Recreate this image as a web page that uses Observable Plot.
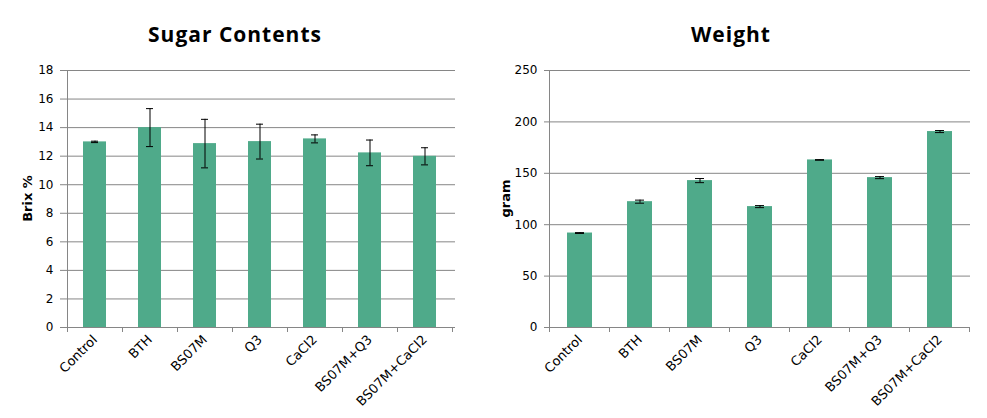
<!DOCTYPE html>
<html><head><meta charset="utf-8">
<script src="https://cdn.jsdelivr.net/npm/d3@7"></script>
<script src="https://cdn.jsdelivr.net/npm/@observablehq/plot@0.6"></script>
<style>
body{margin:0;background:#fff;}
#wrap{position:relative;width:987px;height:418px;overflow:hidden;background:#fff;}
.panel{position:absolute;top:0;}
.title{position:absolute;top:20px;font-family:"Open Sans",sans-serif;font-weight:bold;font-size:21px;letter-spacing:1px;color:#000;white-space:nowrap;transform:translateX(-50%);}
</style></head>
<body><div id="wrap"></div>
<script>
const categories = ["Control","BTH","BS07M","Q3","CaCl2","BS07M+Q3","BS07M+CaCl2"];
const sugarMean = [13.0, 14.0, 12.88, 13.02, 13.21, 12.23, 11.99];
const sugarErr  = [0.05, 1.33, 1.7, 1.22, 0.28, 0.9, 0.6];
const weightMean = [91.9, 122.4, 142.9, 117.6, 163.0, 145.8, 190.6];
const weightErr  = [0.4, 1.5, 2.0, 1.0, 0.3, 1.0, 1.0];
const sugarTicks = [0,2,4,6,8,10,12,14,16,18];
const weightTicks = [0,50,100,150,200,250];
const sugarTitle = "Sugar Contents", sugarYLabel = "Brix %";
const weightTitle = "Weight", weightYLabel = "gram";

const wrap = document.getElementById("wrap");

function panel({left, width, marginLeft, marginRight, title, titleX, ylabel, ylabelX, mean, err, ticks}) {
  const data = categories.map((c, i) => ({cat: c, mean: mean[i], err: err[i]}));
  const grid = "#868686";
  const plot = Plot.plot({
    width, height: 418,
    marginTop: 70, marginBottom: 91, marginLeft, marginRight,
    x: {domain: categories, paddingInner: 0.59, paddingOuter: 0.295, label: null},
    y: {domain: [0, ticks[ticks.length - 1]], label: null},
    style: {fontFamily: "DejaVu Sans, sans-serif", fontSize: "12px", color: "#000", background: "#fff"},
    marks: [
      Plot.ruleY(ticks, {stroke: grid, strokeWidth: 1}),
      Plot.barY(data, {x: "cat", y: "mean", fill: "#4FAA8A"}),
      Plot.ruleX(data, {x: "cat", y1: d => d.mean - d.err, y2: d => d.mean + d.err, stroke: "#000", strokeWidth: 1}),
      Plot.tickY(data, {x: "cat", y: d => d.mean - d.err, stroke: "#000", inset: 8}),
      Plot.tickY(data, {x: "cat", y: d => d.mean + d.err, stroke: "#000", inset: 8}),
      Plot.axisY({ticks, tickSize: 4, tickPadding: 7, stroke: grid, fill: "#000", label: null}),
      Plot.axisX({tickSize: 0, tickPadding: 10, tickRotate: -45, fill: "#000", label: null, className: "xt"})
    ]
  });
  const xs = plot.scale("x"), ys = plot.scale("y");
  const gap = (xs.step - xs.bandwidth) / 2;
  const y0 = ys.apply(0), yTop = ys.apply(ticks[ticks.length - 1]);
  const bounds = categories.map(c => xs.apply(c) - gap);
  bounds.push(xs.apply(categories[categories.length - 1]) + xs.bandwidth + gap);
  const svg = d3.select(plot);
  const g = svg.append("g").attr("stroke", grid).attr("shape-rendering", "crispEdges");
  g.append("line").attr("x1", bounds[0]).attr("x2", bounds[0]).attr("y1", yTop).attr("y2", y0);
  bounds.forEach(b => g.append("line").attr("x1", b).attr("x2", b).attr("y1", y0).attr("y2", y0 + 5));
  svg.selectAll(".xt text").attr("font-size", 13);
  svg.append("text")
    .attr("transform", `translate(${ylabelX},${(y0 + yTop) / 2}) rotate(-90)`)
    .attr("text-anchor", "middle").attr("dy", "0.35em")
    .attr("font-weight", "bold").attr("font-size", 13).attr("fill", "#000")
    .text(ylabel);

  const div = document.createElement("div");
  div.className = "panel";
  div.style.left = left + "px";
  div.appendChild(plot);
  wrap.appendChild(div);

  const t = document.createElement("div");
  t.className = "title"; t.textContent = title; t.style.left = titleX + "px";
  wrap.appendChild(t);
}

panel({left: 0, width: 490, marginLeft: 64, marginRight: 35, title: sugarTitle, titleX: 235, ylabel: sugarYLabel, ylabelX: 27, mean: sugarMean, err: sugarErr, ticks: sugarTicks});
panel({left: 490, width: 497, marginLeft: 58, marginRight: 17, title: weightTitle, titleX: 731, ylabel: weightYLabel, ylabelX: 15, mean: weightMean, err: weightErr, ticks: weightTicks});
</script>
</body></html>
